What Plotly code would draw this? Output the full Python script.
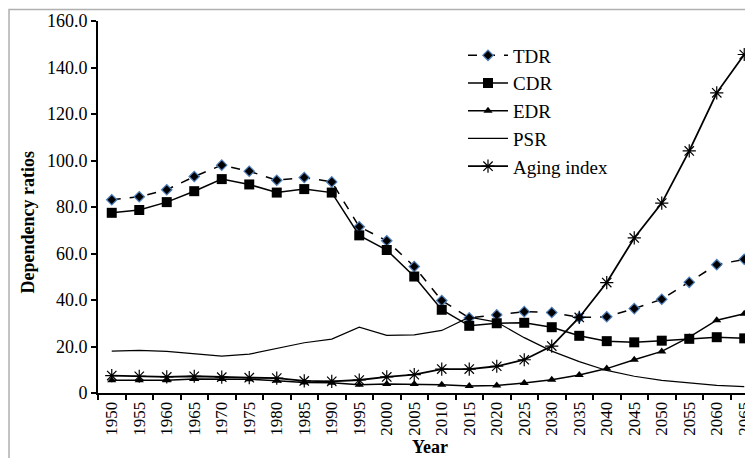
import plotly.graph_objects as go

years = [str(y) for y in range(1950, 2070, 5)]
tdr = [83.1, 84.4, 87.4, 93.1, 98.0, 95.4, 91.5, 92.7, 90.8, 71.5, 65.5, 54.4,
       39.8, 32.3, 33.6, 35.0, 34.6, 32.5, 32.8, 36.3, 40.3, 47.6, 55.2, 57.5]
cdr = [77.5, 78.7, 82.1, 86.8, 92.0, 89.7, 86.2, 87.7, 86.2, 67.8, 61.5, 50.1,
       35.8, 28.9, 30.0, 30.2, 28.3, 24.6, 22.3, 21.8, 22.5, 23.3, 24.0, 23.5]
edr = [5.5, 5.5, 5.5, 6.0, 6.0, 5.9, 5.3, 4.5, 4.4, 3.6, 3.9, 3.9,
       3.6, 3.0, 3.2, 4.3, 5.7, 7.7, 10.5, 14.3, 17.9, 24.0, 31.3, 34.1]
psr = [18.0, 18.3, 17.9, 16.9, 15.9, 16.7, 19.0, 21.6, 23.2, 28.3, 24.8, 25.0,
       26.9, 32.6, 30.5, 23.8, 18.0, 13.5, 9.7, 7.2, 5.4, 4.2, 3.3, 2.7]
aging = [7.5, 7.2, 6.9, 7.2, 6.8, 6.6, 6.4, 5.2, 5.0, 5.6, 6.9, 7.9,
         10.3, 10.3, 11.5, 14.3, 20.2, 32.5, 47.5, 66.7, 81.7, 104.1, 129.1, 145.6]
y_ticks = [0, 20, 40, 60, 80, 100, 120, 140, 160]
y_ticktext = ["0", "20.0", "40.0", "60.0", "80.0", "100.0", "120.0", "140.0", "160.0"]

FONT = "Liberation Serif"

# page body has an 8px margin: figure coordinates = screen coordinates - 8
W, H = 753, 458
L, T = 90, 12.5
PW = W - L            # plot area width (right edge falls outside the window)
PH = 384.7 - T        # plot area height
B = H - T - PH

fig = go.Figure()
fig.add_trace(go.Scatter(x=years, y=tdr, name="TDR", mode="lines+markers",
                         line=dict(color="black", width=1.5, dash="dash"),
                         marker=dict(symbol="diamond", size=8, color="black",
                                     line=dict(color="#4f81bd", width=1.2)),
                         cliponaxis=False))
fig.add_trace(go.Scatter(x=years, y=cdr, name="CDR", mode="lines+markers",
                         line=dict(color="black", width=1.5),
                         marker=dict(symbol="square", size=10, color="black"),
                         cliponaxis=False))
fig.add_trace(go.Scatter(x=years, y=edr, name="EDR", mode="lines+markers",
                         line=dict(color="black", width=1.5),
                         marker=dict(symbol="triangle-up", size=8, color="black"),
                         cliponaxis=False))
fig.add_trace(go.Scatter(x=years, y=psr, name="PSR", mode="lines",
                         line=dict(color="black", width=1.2),
                         cliponaxis=False))
fig.add_trace(go.Scatter(x=years, y=aging, name="Aging index", mode="lines+markers",
                         line=dict(color="black", width=1.8),
                         marker=dict(symbol="asterisk-open", size=11, color="black",
                                     line=dict(color="black", width=1.2)),
                         cliponaxis=False))

def px(xs):
    return (xs - 8 - L) / PW

def py(ys):
    return 1 - (ys - 8 - T) / PH

fig.update_layout(
    width=W, height=H,
    margin=dict(l=L, r=0, t=T, b=B, autoexpand=False),
    paper_bgcolor="white", plot_bgcolor="white",
    font=dict(family=FONT, color="black", size=16),
    showlegend=True,
    legend=dict(x=px(463), y=py(36), xanchor="left", yanchor="top",
                bgcolor="rgba(0,0,0,0)", font=dict(size=19, family=FONT),
                tracegroupgap=0, itemwidth=40),
    xaxis=dict(type="category", range=[-0.5, -0.5 + PW / 27.5], tickson="boundaries",
               showline=True, linecolor="black", linewidth=2,
               ticks="outside", ticklen=5, tickcolor="black", tickwidth=1.5,
               tickangle=-90, showgrid=False, zeroline=False, automargin=False,
               tickfont=dict(size=17, family=FONT)),
    yaxis=dict(range=[0, 160], tickvals=y_ticks, ticktext=y_ticktext,
               showline=True, linecolor="black", linewidth=2,
               ticks="outside", ticklen=5, tickcolor="black", tickwidth=1.5,
               showgrid=False, zeroline=False, automargin=False,
               tickfont=dict(size=18, family=FONT)),
    shapes=[dict(type="rect", xref="paper", yref="paper",
                 x0=px(9), x1=1.3, y0=-0.5, y1=py(9),
                 line=dict(color="#b0b0b0", width=1.5), layer="below")],
    annotations=[
        dict(text="<b>Dependency ratios</b>", xref="paper", yref="paper",
             x=px(28), y=py(222), textangle=-90, showarrow=False,
             xanchor="center", yanchor="middle",
             font=dict(size=18, family=FONT)),
        dict(text="<b>Year</b>", xref="paper", yref="paper",
             x=px(430), y=py(447), showarrow=False, xanchor="center", yanchor="middle",
             font=dict(size=18, family=FONT)),
    ],
)

fig.write_html("out.html")
